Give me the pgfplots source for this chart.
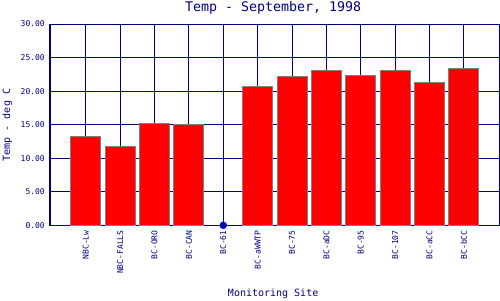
\documentclass[border=0pt]{standalone}
\usepackage{pgfplots}
\pgfplotsset{compat=1.18}
\usepackage{fontspec}
\setmainfont{DejaVu Sans Mono}
\definecolor{navytext}{RGB}{0,0,128}
\definecolor{barred}{RGB}{255,0,0}
\definecolor{bargray}{RGB}{128,128,128}
\definecolor{dotblue}{RGB}{0,0,205}
\begin{document}
\begin{tikzpicture}
\path[use as bounding box] (-50pt,-74.7pt) rectangle (450pt,225.3pt);
\begin{axis}[
  at={(0pt,0pt)}, anchor=south west,
  scale only axis,
  width=449pt, height=201.3pt,
  xmin=-1.04, xmax=12.02,
  ymin=0, ymax=30,
  clip=false,
  axis line style={navytext, line width=1pt},
  xmajorgrids, ymajorgrids,
  grid style={navytext, line width=1pt},
  major tick length=0pt,
  xtick={0,1,2,3,4,5,6,7,8,9,10,11},
  xticklabels={NBC-Lw,NBC-FALLS,BC-ORO,BC-CAN,BC-61,BC-aWWTP,BC-75,BC-aDC,BC-95,BC-107,BC-aCC,BC-bCC},
  ytick={0,5,10,15,20,25,30},
  /pgf/number format/assume math mode=true,
  yticklabel={\pgfmathprintnumber[fixed,fixed zerofill,precision=2]{\tick}},
  ticklabel style={font=\fontsize{8}{9}\selectfont, text=navytext},
  xticklabel style={rotate=90, anchor=east, inner sep=0pt},
  yticklabel style={anchor=east, inner sep=0pt},
  xticklabel shift=5pt,
  yticklabel shift=5pt,
  title={Temp - September, 1998},
  title style={at={(rel axis cs:0.497,1.0795)}, anchor=center, yshift=-6pt, font=\fontsize{13.3}{14}\selectfont, text=navytext, inner sep=0pt},
  xlabel={Monitoring Site},
  xlabel style={at={(rel axis cs:0.497,-0.341)}, anchor=center, font=\fontsize{10}{11}\selectfont, text=navytext, inner sep=0pt},
  ylabel={Temp - deg C},
  ylabel style={at={(rel axis cs:-0.0947,0.498)}, anchor=center, rotate=0, font=\fontsize{10}{11}\selectfont, text=navytext, inner sep=0pt},
]
\addplot[ybar, bar width=30pt, fill=barred, draw=bargray, line width=1pt] coordinates {
  (0,13.25) (1,11.8) (2,15.2) (3,15.05) (5,20.7) (6,22.2) (7,23.0) (8,22.35) (9,23.0) (10,21.35) (11,23.3)
};
\addplot[only marks, mark=*, mark size=3.5pt, mark options={fill=dotblue, draw=dotblue}] coordinates {(4,0)};
\end{axis}
\end{tikzpicture}
\end{document}
